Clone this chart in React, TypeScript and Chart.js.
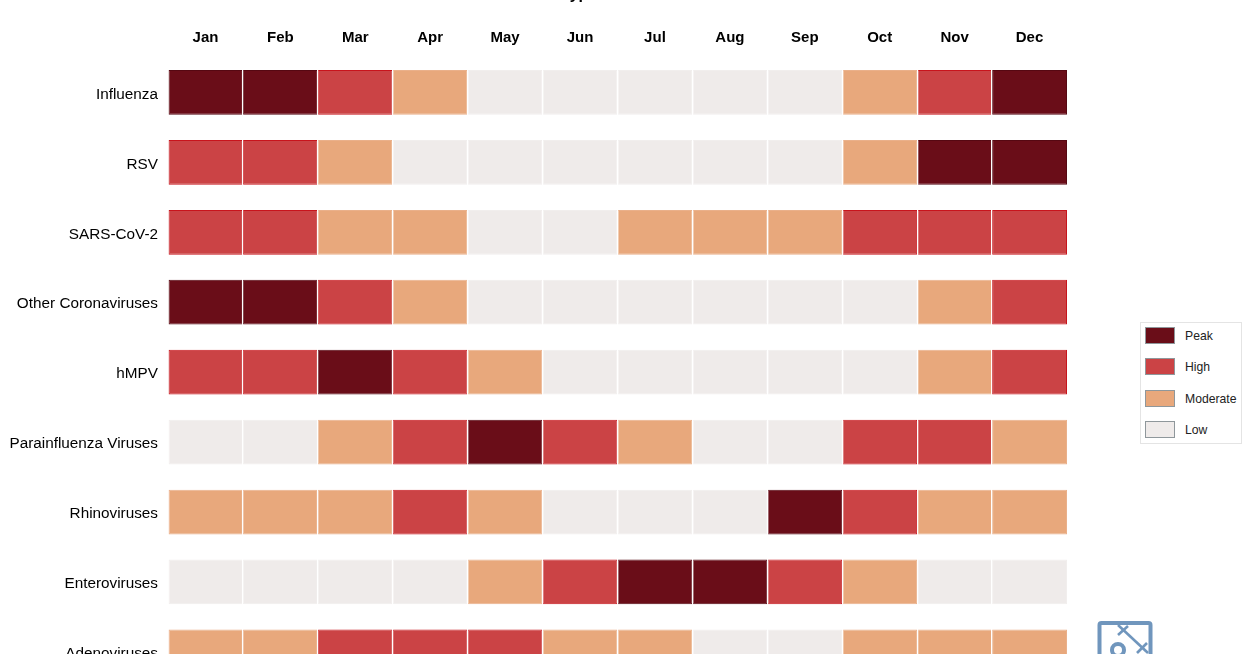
import React, { useEffect, useRef } from "react";
import { Chart, registerables } from "chart.js";

Chart.register(...registerables);

const months = ["Jan", "Feb", "Mar", "Apr", "May", "Jun", "Jul", "Aug", "Sep", "Oct", "Nov", "Dec"];
const viruses = [
  "Influenza",
  "RSV",
  "SARS-CoV-2",
  "Other Coronaviruses",
  "hMPV",
  "Parainfluenza Viruses",
  "Rhinoviruses",
  "Enteroviruses",
  "Adenoviruses",
];
const levelNames = ["Peak", "High", "Moderate", "Low"];
const levelFill: Record<string, string> = { Peak: "#6a0d18", High: "#cb4345", Moderate: "#e8a87c", Low: "#efebea" };
const levelEdge: Record<string, string> = { Peak: "#560812", High: "#c8141c", Moderate: "#eab08a", Low: "#f1eeed" };

const P = "Peak", H = "High", M = "Moderate", L = "Low";
const influenza = [P, P, H, M, L, L, L, L, L, M, H, P];
const rsv = [H, H, M, L, L, L, L, L, L, M, P, P];
const sarsCov2 = [H, H, M, M, L, L, M, M, M, H, H, H];
const otherCorona = [P, P, H, M, L, L, L, L, L, L, M, H];
const hmpv = [H, H, P, H, M, L, L, L, L, L, M, H];
const parainfluenza = [L, L, M, H, P, H, M, L, L, H, H, M];
const rhinoviruses = [M, M, M, H, M, L, L, L, P, H, M, M];
const enteroviruses = [L, L, L, L, M, H, P, P, H, M, L, L];
const adenoviruses = [M, M, H, H, H, M, M, L, L, M, M, M];
const rows = [influenza, rsv, sarsCov2, otherCorona, hmpv, parainfluenza, rhinoviruses, enteroviruses, adenoviruses];
const monthSpan = 1;

const FONT = "'Liberation Sans', Arial, sans-serif";
const CANVAS_SHIFT = 40;
const CANVAS_H = 698 + CANVAS_SHIFT;

export default function App() {
  const ref = useRef<HTMLCanvasElement>(null);
  useEffect(() => {
    const chart = new Chart(ref.current!, {
      type: "bar",
      data: {
        labels: viruses,
        datasets: months.map((m, i) => ({
          label: m,
          data: viruses.map(() => monthSpan),
          backgroundColor: rows.map((r) => levelFill[r[i]]),
          borderColor: rows.map((r) => levelEdge[r[i]]),
          borderWidth: 1,
          borderSkipped: false as any,
          categoryPercentage: 1,
          barPercentage: 0.64,
          stack: "months",
        })),
      },
      options: {
        indexAxis: "y",
        animation: false,
        responsive: false,
        layout: { padding: { left: 0, right: 183, top: 0, bottom: 0 } },
        plugins: {
          legend: { display: false },
          tooltip: { enabled: false },
          title: {
            display: true,
            text: "Seasonal Trends in Virus Types and Months",
            color: "#000",
            font: { family: FONT, size: 16, weight: "bold" },
            padding: { top: 25, bottom: 0 },
          },
        },
        scales: {
          x: {
            type: "linear",
            stacked: true,
            min: 0,
            max: months.length,
            display: true,
            ticks: { display: false, stepSize: 1 },
            border: { display: false },
            grid: {
              z: 1,
              drawTicks: false,
              lineWidth: 1.2,
              color: (c: any) => (c.index === 0 || c.index === months.length ? "rgba(0,0,0,0)" : "#ffffff"),
            },
            afterFit: (s: any) => { s.height = 0; },
          },
          top: {
            type: "category",
            position: "top",
            labels: months,
            offset: true,
            grid: { display: false },
            border: { display: false },
            ticks: {
              color: "#000",
              maxRotation: 0,
              autoSkip: false,
              padding: 2.5,
              font: { family: FONT, size: 15, weight: "bold" },
            },
            afterFit: (s: any) => { s.height = 53.3; },
          },
          y: {
            type: "category",
            stacked: true,
            grid: { display: false },
            border: { display: false },
            ticks: {
              color: "#000",
              padding: 2,
              autoSkip: false,
              labelOffset: 2,
              font: { family: FONT, size: 15.3 },
            },
            afterFit: (s: any) => { s.width = 168; },
          },
        },
      } as any,
    });
    return () => chart.destroy();
  }, []);

  return (
    <div style={{ position: "fixed", inset: 0, overflow: "hidden", background: "#fff", fontFamily: FONT }}>
      <canvas
        ref={ref}
        width={1250}
        height={CANVAS_H}
        style={{ position: "absolute", left: 0, top: -CANVAS_SHIFT, width: 1250, height: CANVAS_H }}
      />
      <div
        style={{
          position: "absolute",
          left: 1140,
          top: 322,
          width: 100,
          height: 120,
          border: "1px solid #e4e4e4",
          background: "#fff",
        }}
      >
        {levelNames.map((n, i) => (
          <div key={n} style={{ position: "absolute", left: 0, top: 4 + i * 31.4, height: 18, width: 100 }}>
            <div
              style={{
                position: "absolute",
                left: 4,
                top: 0,
                width: 28,
                height: 15,
                background: levelFill[n],
                border: "1.5px solid #8f979b",
              }}
            />
            <div style={{ position: "absolute", left: 44, top: 2, fontSize: 12.2, lineHeight: "14px", color: "#222" }}>{n}</div>
          </div>
        ))}
      </div>
      <svg style={{ position: "absolute", left: 1090, top: 615 }} width={70} height={39} viewBox="0 0 70 39">
        <g fill="none" stroke="#7096bd" strokeWidth={4}>
          <rect x={9.5} y={8} width={51} height={50} rx={2} />
          <circle cx={28} cy={35} r={6} />
        </g>
        <g fill="none" stroke="#7096bd" strokeWidth={2.6}>
          <path d="M28 10 L58 38" />
          <path d="M38 11 L28 20" />
          <path d="M57 28 L47 38" />
        </g>
      </svg>
    </div>
  );
}
